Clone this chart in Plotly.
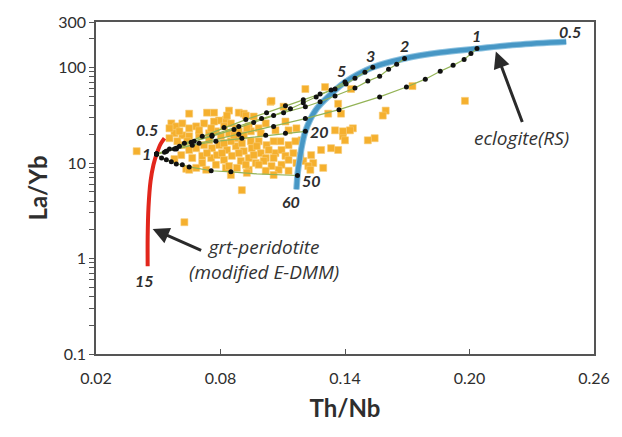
import math
import plotly.graph_objects as go

# ---- Melting curves -------------------------------------------------------
# Garnet peridotite (modified E-DMM), F from 0.5 % (top) to 15 % (bottom)
perid_thnb = [0.0530, 0.0511, 0.0492, 0.0477, 0.0463, 0.0453, 0.0449, 0.0449]
perid_layb = [18.2, 15.8, 12.4, 9.6, 6.5, 3.45, 1.69, 0.83]

# Eclogite (RS), F from 60 % (bottom) to 0.5 % (top right)
eclog_thnb = [0.1166, 0.1171, 0.1175, 0.1185, 0.1190, 0.1209, 0.1257, 0.1333,
              0.1400, 0.1534, 0.1687, 0.1859, 0.2036, 0.2227, 0.2466]
eclog_layb = [5.3, 7.4, 8.9, 12.1, 14.3, 21.5, 35.4, 52.9,
              70.4, 100.6, 124.5, 143.6, 157.9, 173.7, 186.5]

# Melting-degree labels: (text, Th/Nb, La/Yb, xshift, yshift)
perid_labels = [("0.5", 0.0530, 18.2, -17, 9),
                ("1", 0.0492, 12.4, -10, 1),
                ("15", 0.0449, 0.83, -3, -14)]
eclog_labels = [("0.5", 0.2466, 186.5, 4, 10),
                ("1", 0.2036, 157.9, 0, 13),
                ("2", 0.1687, 124.5, 0, 13),
                ("3", 0.1534, 100.6, -2, 12),
                ("5", 0.1400, 70.4, -4, 12),
                ("20", 0.1209, 21.5, 14, 0),
                ("50", 0.1171, 7.4, 14, -5),
                ("60", 0.1166, 5.3, -5, -12)]

# ---- Mixing lines: 1 % peridotite melt + eclogite melts --------------------
mix_50_thnb = [0.0492, 0.0516, 0.0539, 0.0563, 0.0587, 0.0616, 0.0649, 0.0755, 0.0850, 0.0975, 0.1171]
mix_50_layb = [12.4, 11.3, 10.8, 10.3, 9.8, 9.6, 9.1, 8.3, 8.1, 7.7, 7.4]

mix_20_thnb = [0.0492, 0.0539, 0.0587, 0.0664, 0.0778, 0.0903, 0.1018, 0.1113, 0.1209]
mix_20_layb = [12.4, 13.3, 14.0, 15.4, 16.9, 18.2, 19.5, 20.5, 21.5]

mix_5_thnb = [0.0492, 0.0530, 0.0587, 0.0659, 0.0759, 0.0865, 0.0960, 0.1056, 0.1137, 0.1199, 0.1261, 0.1333, 0.1400]
mix_5_layb = [12.4, 13.0, 14.3, 16.5, 19.1, 22.5, 26.6, 31.4, 37.1, 42.8, 49.3, 58.3, 70.4]

mix_3_thnb = [0.0492, 0.0554, 0.0626, 0.0712, 0.0817, 0.0922, 0.1022, 0.1113, 0.1199, 0.1280, 0.1352, 0.1405, 0.1448, 0.1496, 0.1534]
mix_3_layb = [12.4, 14.0, 16.1, 19.1, 23.6, 28.5, 33.7, 39.8, 45.9, 52.9, 59.6, 67.2, 77.4, 89.3, 100.6]

mix_2_thnb = [0.0492, 0.0539, 0.0602, 0.0673, 0.0759, 0.0888, 0.0998, 0.1104, 0.1209, 0.1280, 0.1352, 0.1448, 0.1510, 0.1567, 0.1610, 0.1649, 0.1687]
mix_2_layb = [12.4, 13.3, 15.0, 16.9, 19.5, 24.2, 29.2, 33.7, 38.9, 43.8, 50.5, 61.1, 72.1, 81.2, 95.9, 108.0, 124.5]

mix_1_thnb = [0.0492, 0.0578, 0.0697, 0.0888, 0.1056, 0.1209, 0.1371, 0.1567, 0.1696, 0.1787, 0.1859, 0.1921, 0.1974, 0.2007, 0.2036]
mix_1_layb = [12.4, 14.0, 16.1, 20.0, 24.2, 29.2, 36.2, 49.3, 62.5, 75.6, 91.5, 105.5, 121.6, 140.3, 157.9]

# ---- Basalt samples --------------------------------------------------------
sample_thnb = [
    0.0649, 0.0735, 0.0769, 0.0826, 0.0888, 0.1041, 0.1104, 0.1209, 0.0563, 0.0587,
    0.0616, 0.0683, 0.0721, 0.0793, 0.0817, 0.0850, 0.0874, 0.0936, 0.0984, 0.1018,
    0.1065, 0.1113, 0.1128, 0.1166, 0.1190, 0.0578, 0.0616, 0.0649, 0.0697, 0.0745,
    0.0778, 0.0802, 0.0841, 0.0879, 0.0912, 0.0946, 0.0984, 0.1022, 0.1089, 0.1128,
    0.1161, 0.0616, 0.0683, 0.0721, 0.0759, 0.0793, 0.0831, 0.0874, 0.0912, 0.0951,
    0.0994, 0.1018, 0.1065, 0.1094, 0.1151, 0.0611, 0.0664, 0.0712, 0.0755, 0.0783,
    0.0817, 0.0855, 0.0898, 0.0936, 0.0970, 0.1008, 0.1046, 0.1094, 0.1166, 0.0712,
    0.0778, 0.0826, 0.0879, 0.0936, 0.1018, 0.1080, 0.1128, 0.1199, 0.1247, 0.0683,
    0.0731, 0.0927, 0.0984, 0.1113, 0.1223, 0.1237, 0.1295, 0.1285, 0.1367, 0.1390,
    0.1352, 0.1438, 0.1400, 0.1367, 0.1319, 0.1304, 0.0912, 0.0841, 0.0396, 0.0602,
    0.0649, 0.1429, 0.1596, 0.1582, 0.1543, 0.1510, 0.1725, 0.1978, 0.0626, 0.0903,
    0.0769, 0.0831, 0.0960, 0.0697, 0.0755, 0.0888, 0.0946, 0.1056, 0.0640, 0.0745,
    0.0850, 0.0903, 0.0975, 0.1032, 0.0649, 0.0735, 0.0807, 0.0888, 0.0960, 0.1056,
    0.1128, 0.0850, 0.1056, 0.0554, 0.1185, 0.1333, 0.1424, 0.1381, 0.1390, 0.0922,
    0.1046, 0.0865, 0.0817, 0.0927, 0.0994, 0.0554, 0.0592, 0.0578, 0.0635, 0.0649,
    0.0841, 0.0922, 0.1233,
]
sample_layb = [
    32.9, 33.7, 33.7, 28.5, 33.7, 43.8, 38.9, 59.6, 26.0, 24.2,
    26.0, 24.2, 26.0, 27.9, 24.2, 26.0, 23.1, 24.2, 23.1, 26.0,
    22.0, 27.2, 22.0, 23.1, 17.3, 20.5, 19.5, 19.1, 19.5, 20.5,
    21.5, 19.1, 20.5, 18.2, 19.5, 16.9, 16.9, 15.4, 16.9, 15.4,
    16.9, 15.4, 14.3, 15.4, 14.3, 15.4, 13.7, 15.0, 13.3, 14.3,
    12.7, 11.3, 12.7, 13.7, 12.7, 12.1, 11.3, 11.9, 11.3, 12.1,
    10.8, 11.9, 10.5, 11.3, 10.0, 10.5, 9.3, 9.6, 10.0, 10.0,
    9.6, 8.9, 8.9, 8.5, 8.3, 8.5, 8.3, 10.5, 10.0, 8.9,
    8.5, 7.9, 9.6, 11.9, 9.3, 12.1, 8.9, 13.7, 13.7, 19.1,
    22.0, 23.1, 17.3, 41.8, 32.9, 62.5, 32.9, 35.4, 13.3, 21.5,
    23.1, 59.6, 35.4, 31.4, 18.2, 17.3, 64.0, 44.8, 2.4, 5.2,
    27.2, 31.4, 30.7, 22.0, 23.1, 21.5, 21.5, 16.9, 16.9, 17.3,
    16.9, 16.1, 15.0, 13.7, 13.7, 12.7, 12.7, 12.7, 12.1, 11.3,
    10.8, 7.5, 7.5, 23.1, 11.9, 14.3, 22.0, 32.9, 21.5, 31.4,
    44.8, 19.5, 16.1, 23.1, 20.5, 18.2, 16.9, 11.0, 8.7, 8.5,
    9.3, 9.6, 8.5,
]

# ---- Axes ------------------------------------------------------------------
x_ticks = [0.02, 0.08, 0.14, 0.20, 0.26]
x_ticktext = ["0.02", "0.08", "0.14", "0.20", "0.26"]
y_major = [0.1, 1, 10, 100, 300]
y_major_text = ["0.1", "1", "10", "100", "300"]
y_minor = [m * d for d in (0.1, 1, 10) for m in range(2, 10)] + [200]

TEXT = "#2e2e2e"
FONT = "Lato"
CAPTION_FONT = "Open Sans"
DOT = dict(color="#111111", size=5)

fig = go.Figure()

fig.add_trace(go.Scatter(
    x=sample_thnb, y=sample_layb, mode="markers",
    marker=dict(symbol="square", size=7, color="#F5B02E",
                line=dict(width=0.6, color="#F8CB74")),
    hoverinfo="skip"))

fig.add_trace(go.Scatter(
    x=perid_thnb, y=perid_layb, mode="lines",
    line=dict(color="#E2261C", width=4, shape="spline"), hoverinfo="skip"))

fig.add_trace(go.Scatter(
    x=eclog_thnb, y=eclog_layb, mode="lines",
    line=dict(color="#8CC2E0", width=6.5, shape="spline"), hoverinfo="skip"))
fig.add_trace(go.Scatter(
    x=eclog_thnb, y=eclog_layb, mode="lines",
    line=dict(color="#4797C5", width=4.5, shape="spline"), hoverinfo="skip"))

mixes = [(mix_50_thnb, mix_50_layb), (mix_20_thnb, mix_20_layb),
         (mix_5_thnb, mix_5_layb), (mix_3_thnb, mix_3_layb),
         (mix_2_thnb, mix_2_layb), (mix_1_thnb, mix_1_layb)]
for mx, my in mixes:
    fig.add_trace(go.Scatter(
        x=mx, y=my, mode="lines",
        line=dict(color="#93B356", width=1.2), hoverinfo="skip"))
for i, (mx, my) in enumerate(mixes):
    # the 50 % line has no dot on its last leg, only at the curve itself
    px, py = (mx[:-2] + mx[-1:], my[:-2] + my[-1:]) if i == 0 else (mx, my)
    fig.add_trace(go.Scatter(x=px, y=py, mode="markers",
                             marker=DOT, hoverinfo="skip"))

# Log axes take annotation positions as log10 values
annotations = []
for text, xv, yv, dx, dy in perid_labels + eclog_labels:
    annotations.append(dict(
        x=xv, y=math.log10(yv), xref="x", yref="y",
        text=f"<b><i>{text}</i></b>",
        showarrow=False, xshift=dx, yshift=dy,
        font=dict(family=FONT, size=16, color=TEXT)))

# Arrows with their captions
annotations.append(dict(
    x=0.2127, y=math.log10(147.0), xref="x", yref="y", text="",
    showarrow=True, ax=27, ay=72, arrowhead=2, arrowsize=1.1, arrowwidth=3,
    arrowcolor="#2a2a2a"))
annotations.append(dict(
    x=0.2251, y=math.log10(18.2), xref="x", yref="y",
    text="<i>eclogite(RS)</i>", showarrow=False,
    font=dict(family=CAPTION_FONT, size=19, color="#333333")))
annotations.append(dict(
    x=0.0473, y=math.log10(2.04), xref="x", yref="y", text="",
    showarrow=True, ax=50, ay=22, arrowhead=2, arrowsize=1.1, arrowwidth=3,
    arrowcolor="#2a2a2a"))
annotations.append(dict(
    x=0.1008, y=math.log10(0.98), xref="x", yref="y",
    text="<i>grt-peridotite<br>(modified E-DMM)</i>", showarrow=False,
    align="center",
    font=dict(family=CAPTION_FONT, size=19, color="#333333")))

fig.update_layout(
    width=622, height=437,
    margin=dict(l=96, r=24, t=17, b=83),
    paper_bgcolor="white", plot_bgcolor="white",
    showlegend=False,
    annotations=annotations,
    font=dict(family=FONT, color=TEXT),
    xaxis=dict(
        range=[0.02, 0.26], tickvals=x_ticks, ticktext=x_ticktext,
        ticks="inside", ticklen=5, tickwidth=1, tickcolor="#555",
        ticklabelstandoff=9,
        showline=True, linecolor="#555", linewidth=1.5, mirror=True,
        showgrid=False, zeroline=False,
        tickfont=dict(family=FONT, size=16, color=TEXT),
        title=dict(text="<b>Th/Nb</b>", standoff=14,
                   font=dict(family=FONT, size=24, color=TEXT))),
    yaxis=dict(
        type="log", range=[-1, math.log10(300)],
        tickvals=y_major + y_minor,
        ticktext=y_major_text + [""] * len(y_minor),
        ticks="outside", ticklen=5, tickwidth=1, tickcolor="#555",
        showline=True, linecolor="#555", linewidth=1.5, mirror=True,
        showgrid=False, zeroline=False,
        tickfont=dict(family=FONT, size=16, color=TEXT),
        title=dict(text="<b>La/Yb</b>", standoff=4,
                   font=dict(family=FONT, size=24, color=TEXT))),
)

fig.write_html("out.html")
